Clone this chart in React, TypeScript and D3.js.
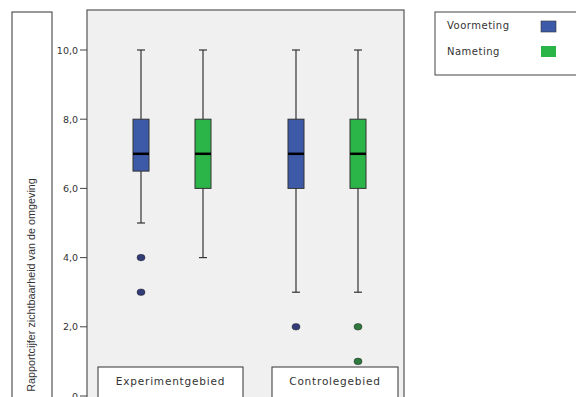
import React from "react";
import * as d3 from "d3";

const groups = ["Experimentgebied", "Controlegebied"];
const seriesNames = ["Voormeting", "Nameting"];
const seriesColors = ["#3c5aa8", "#2bb548"];
const outlierColors = ["#323c78", "#2e7a3e"];
// [min, q1, median, q3, max]
const voormetingStats = [
  [5, 6.5, 7, 8, 10],
  [3, 6, 7, 8, 10],
];
const nametingStats = [
  [4, 6, 7, 8, 10],
  [3, 6, 7, 8, 10],
];
const voormetingOutliers = [[4, 3], [2]];
const nametingOutliers = [[], [2, 1]];
const yTicks = [0, 2, 4, 6, 8, 10];
const yLabel = "Rapportcijfer zichtbaarheid van de omgeving";

export default function App() {
  const W = 576, H = 397;
  const plotL = 87, plotR = 404, plotT = 10, plotB = 420;
  const y = d3.scaleLinear().domain([0, 10]).range([396, 50]);
  const xGroup = d3.scalePoint().domain(groups).range([172, 327]);
  const xSeries = d3.scalePoint().domain(seriesNames).range([-31, 31]);
  const boxW = 16;
  const fmt = (v: number) => (v === 0 ? "0" : v.toFixed(1).replace(".", ","));
  const font = "'DejaVu Sans', sans-serif";

  const allStats = [voormetingStats, nametingStats];
  const allOutliers = [voormetingOutliers, nametingOutliers];

  return (
    <svg width={W} height={H} style={{ position: "absolute", left: 0, top: 0, background: "#fff" }}>
      {/* y-axis label box */}
      <rect x={12} y={12} width={40} height={400} fill="#fff" stroke="#333" strokeWidth={1} />
      <text
        transform={`translate(35,${285}) rotate(-90)`}
        textAnchor="middle"
        fontFamily="'Liberation Sans', sans-serif"
        fontSize={10.8}
        fill="#333"
      >
        {yLabel}
      </text>

      {/* plot area */}
      <rect x={plotL} y={plotT} width={plotR - plotL} height={plotB - plotT} fill="#f0f0f0" stroke="#555" strokeWidth={1.2} />

      {/* y ticks */}
      {yTicks.map((t) => (
        <g key={t}>
          <line x1={80} x2={plotL} y1={y(t)} y2={y(t)} stroke="#444" strokeWidth={1} />
          <text x={78} y={y(t) + 3.5} textAnchor="end" fontFamily={font} fontSize={9.5} fill="#333">
            {fmt(t)}
          </text>
        </g>
      ))}

      {/* boxes */}
      {groups.map((g, gi) =>
        seriesNames.map((s, si) => {
          const [mn, q1, md, q3, mx] = allStats[si][gi];
          const cx = (xGroup(g) ?? 0) + (xSeries(s) ?? 0);
          return (
            <g key={g + s}>
              <line x1={cx} x2={cx} y1={y(mx)} y2={y(q3)} stroke="#333" strokeWidth={1.2} />
              <line x1={cx} x2={cx} y1={y(q1)} y2={y(mn)} stroke="#333" strokeWidth={1.2} />
              <line x1={cx - 4} x2={cx + 4} y1={y(mx)} y2={y(mx)} stroke="#333" strokeWidth={1.2} />
              <line x1={cx - 4} x2={cx + 4} y1={y(mn)} y2={y(mn)} stroke="#333" strokeWidth={1.2} />
              <rect x={cx - boxW / 2} y={y(q3)} width={boxW} height={y(q1) - y(q3)} fill={seriesColors[si]} stroke="#333" strokeWidth={1} />
              <line x1={cx - boxW / 2} x2={cx + boxW / 2} y1={y(md)} y2={y(md)} stroke="#000" strokeWidth={2.5} />
              {allOutliers[si][gi].map((o, oi) => (
                <ellipse key={oi} cx={cx} cy={y(o)} rx={4} ry={3.3} fill={outlierColors[si]} stroke="#222" strokeWidth={0.5} />
              ))}
            </g>
          );
        })
      )}

      {/* category label boxes */}
      {groups.map((g, gi) => {
        const bx = gi === 0 ? 98 : 272;
        const bw = gi === 0 ? 145 : 126;
        return (
          <g key={g}>
            <rect x={bx} y={367} width={bw} height={40} fill="#fff" stroke="#333" strokeWidth={1} />
            <text x={bx + bw / 2} y={385} textAnchor="middle" fontFamily={font} fontSize={10.5} letterSpacing={0.8} fill="#333">
              {g}
            </text>
          </g>
        );
      })}

      {/* legend */}
      <rect x={435} y={12} width={150} height={63} fill="#fff" stroke="#444" strokeWidth={1} />
      {seriesNames.map((s, si) => (
        <g key={s}>
          <text x={447} y={29 + si * 26} fontFamily={font} fontSize={10} letterSpacing={0.5} fill="#333">
            {s}
          </text>
          <rect x={541} y={21 + si * 25} width={15} height={11} fill={seriesColors[si]} stroke={si === 0 ? "#333" : "none"} strokeWidth={0.6} />
        </g>
      ))}
    </svg>
  );
}
